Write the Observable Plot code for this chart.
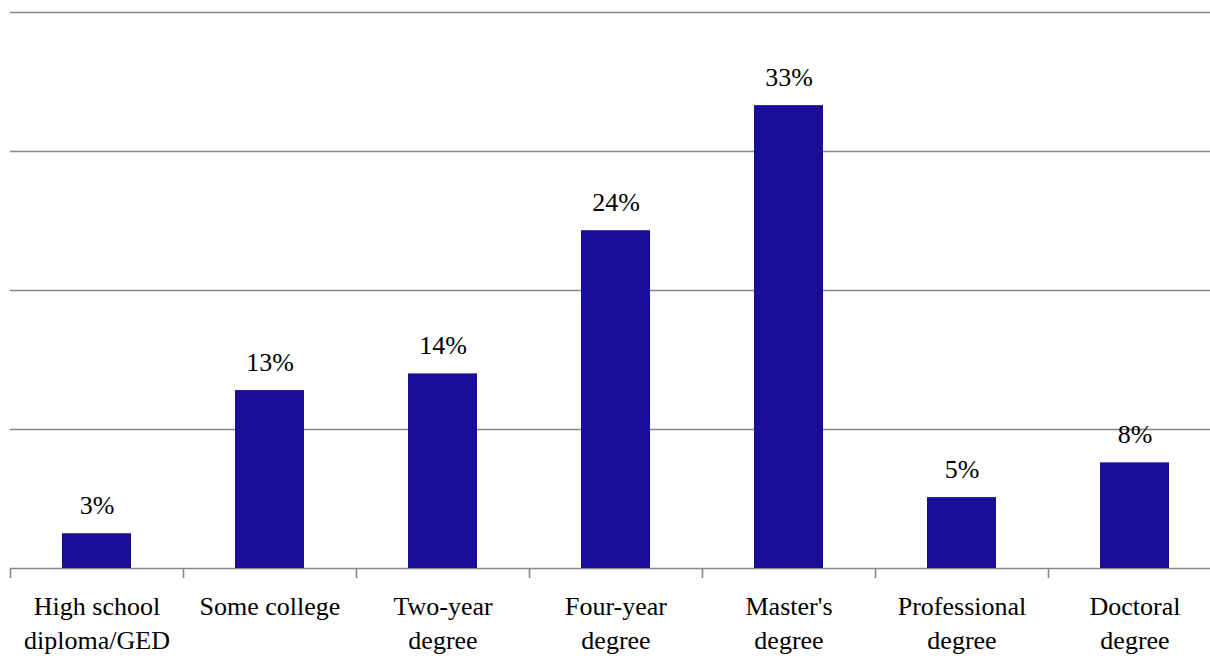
<!DOCTYPE html>
<html><head><meta charset="utf-8">
<script src="https://cdn.jsdelivr.net/npm/d3@7"></script>
<script src="https://cdn.jsdelivr.net/npm/@observablehq/plot@0.6"></script>
<style>html,body{margin:0;padding:0;background:#fff}</style>
</head><body><div id="chart"></div>
<script>
const categories = ["High school diploma/GED", "Some college", "Two-year degree", "Four-year degree", "Master's degree", "Professional degree", "Doctoral degree"];
const tickLabels = ["High school\ndiploma/GED", "Some college", "Two-year\ndegree", "Four-year\ndegree", "Master's\ndegree", "Professional\ndegree", "Doctoral\ndegree"];
const values = [2.5, 12.8, 14.0, 24.3, 33.3, 5.1, 7.6];
const valueLabels = ["3%", "13%", "14%", "24%", "33%", "5%", "8%"];
const gridValues = [0, 10, 20, 30, 40];

const data = categories.map((c, i) => ({category: c, value: values[i], label: valueLabels[i]}));
const labelOf = new Map(categories.map((c, i) => [c, tickLabels[i]]));

const W = 1210, H = 662;
const x0 = 10, x1 = 1221;
const step = (x1 - x0) / categories.length;

const chart = Plot.plot({
  width: W, height: H,
  marginTop: 12, marginBottom: 94, marginLeft: 10, marginRight: 0,
  style: {fontFamily: "'Liberation Serif', serif", fontSize: "26px", color: "#000", background: "#fff"},
  x: {domain: categories, range: [x0, x1], paddingInner: 0.6, paddingOuter: 0.3, axis: null},
  y: {domain: [0, 40], axis: null},
  marks: [
    Plot.ruleY(gridValues, {stroke: "#868686", strokeWidth: 1.6}),
    Plot.barY(data, {x: "category", y: "value", fill: "#1a0d99"}),
    Plot.text(data, {x: "category", y: "value", text: "label", dy: -28, fontSize: 26, fill: "#000"}),
    Plot.axisX({tickSize: 0, tickPadding: 22, tickFormat: d => labelOf.get(d), fontSize: 26, lineHeight: 1.31, fill: "#000", label: null}),
    Plot.axisX({tickSize: 10, tickFormat: () => "", dx: -step / 2, stroke: "#868686", strokeWidth: 1.6, label: null})
  ]
});
document.getElementById("chart").appendChild(chart);
</script>
</body></html>
